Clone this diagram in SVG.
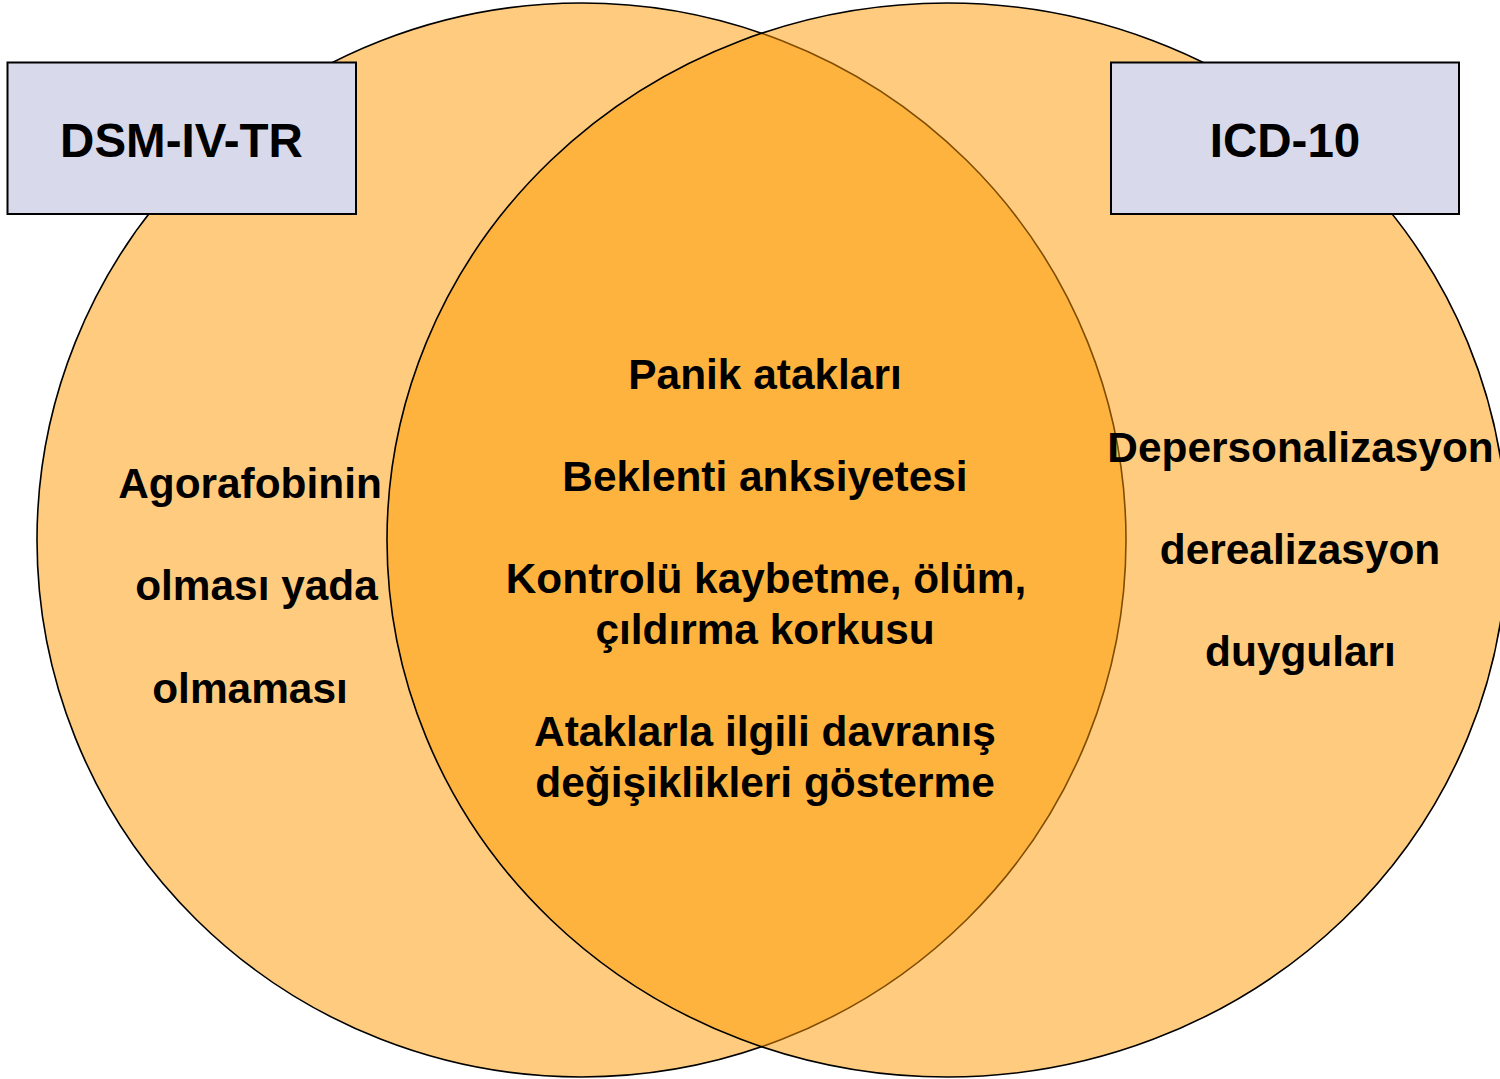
<svg xmlns="http://www.w3.org/2000/svg" width="1500" height="1079" viewBox="0 0 1500 1079">
  <style>
    .set { fill: #FF9900; fill-opacity: 0.5; stroke: #000; stroke-width: 1.6; }
    .box { fill: #D9D9EC; stroke: #000; stroke-width: 2; }
    .title { font-family: "Liberation Sans", Arial, sans-serif; font-weight: bold; font-size: 47.5px; fill: #000; text-anchor: middle; }
    .lbl { font-family: "Liberation Sans", Arial, sans-serif; font-weight: bold; font-size: 42.4px; fill: #000; text-anchor: middle; }
  </style>
  <rect x="0" y="0" width="1500" height="1079" fill="#FFFFFF"/>
  <g id="set-dsm">
    <ellipse class="set" cx="581.5" cy="540" rx="544.5" ry="537"/>
  </g>
  <g id="set-icd">
    <ellipse class="set" cx="947" cy="540" rx="560" ry="537"/>
  </g>
  <g id="box-dsm">
    <rect class="box" x="7.5" y="62.5" width="348.5" height="151.5"/>
    <text class="title" x="181.5" y="157">DSM-IV-TR</text>
  </g>
  <g id="box-icd">
    <rect class="box" x="1111" y="62.5" width="348" height="151.5"/>
    <text class="title" x="1285" y="157">ICD-10</text>
  </g>
  <g id="text-dsm-only">
    <text class="lbl" x="250" y="498">Agorafobinin</text>
    <text class="lbl" x="256.5" y="600">olması yada</text>
    <text class="lbl" x="250" y="703">olmaması</text>
  </g>
  <g id="text-common">
    <text class="lbl" x="765" y="389">Panik atakları</text>
    <text class="lbl" x="765" y="491">Beklenti anksiyetesi</text>
    <text class="lbl" x="766" y="593">Kontrolü kaybetme, ölüm,</text>
    <text class="lbl" x="765" y="644">çıldırma korkusu</text>
    <text class="lbl" x="765" y="746">Ataklarla ilgili davranış</text>
    <text class="lbl" x="765" y="797">değişiklikleri gösterme</text>
  </g>
  <g id="text-icd-only">
    <text class="lbl" x="1300.5" y="462">Depersonalizasyon</text>
    <text class="lbl" x="1300" y="564">derealizasyon</text>
    <text class="lbl" x="1300.5" y="666">duyguları</text>
  </g>
</svg>
